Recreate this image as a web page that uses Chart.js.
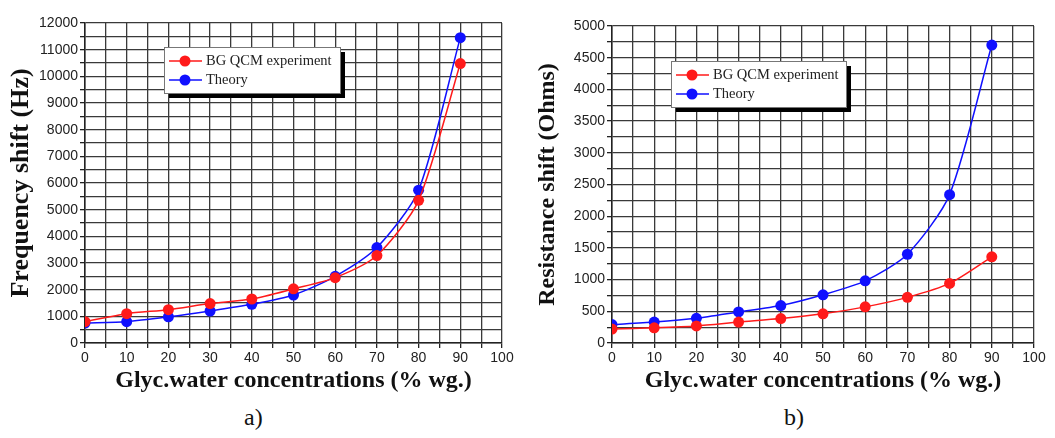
<!DOCTYPE html>
<html>
<head>
<meta charset="utf-8">
<script src="https://cdn.jsdelivr.net/npm/chart.js@4"></script>
<style>
  html, body { margin: 0; padding: 0; background: #fff; }
  #wrap { position: relative; width: 1055px; height: 438px; overflow: hidden; }
  .box { position: absolute; top: 0; height: 400px; }
  .cap { position: absolute; top: 404px; font: 24px "Liberation Serif", "DejaVu Serif", serif; color: #111; }
</style>
</head>
<body>
<div id="wrap">
  <div class="box" style="left:0;width:527px"><canvas id="freqChart" width="527" height="400"></canvas></div>
  <div class="box" style="left:527px;width:528px"><canvas id="resChart" width="528" height="400"></canvas></div>
  <div class="cap" style="left:244px">a)</div>
  <div class="cap" style="left:784px">b)</div>
</div>
<script>
// concentrations (% wg.)
const concentrations = [0, 10, 20, 30, 40, 50, 60, 70, 80, 90];

// a) frequency shift (Hz)
const freqExperiment = [800, 1100, 1250, 1480, 1650, 2030, 2450, 3280, 5350, 10480];
const freqTheory = [750, 800, 980, 1200, 1450, 1800, 2500, 3580, 5730, 11450];

// b) resistance shift (Ohms)
const resExperiment = [220, 240, 270, 330, 385, 460, 570, 720, 940, 1360];
const resTheory = [290, 330, 390, 490, 590, 760, 980, 1400, 2340, 4700];

const seriesNames = ['BG QCM experiment', 'Theory'];

const gridColor = '#3a3a3a';
const tickFont = { family: '"Liberation Sans", Arial, sans-serif', size: 14 };
const serif = '"Liberation Serif", "Times New Roman", serif';

// legend box with drop shadow, drawn inside the plot
const boxLegend = {
    id: 'boxLegend',
    afterDatasetsDraw(chart, args, opts) {
        const ctx = chart.ctx;
        const { x, y, w, h } = opts;
        ctx.save();
        ctx.fillStyle = '#000';
        ctx.fillRect(x + 5, y + 5, w, h);
        ctx.fillStyle = '#fff';
        ctx.fillRect(x, y, w, h);
        ctx.strokeStyle = '#777';
        ctx.lineWidth = 1;
        ctx.strokeRect(x + 0.5, y + 0.5, w, h);
        ctx.font = '14.5px ' + serif;
        ctx.textBaseline = 'middle';
        chart.data.datasets.forEach((ds, i) => {
            const ry = y + 14 + i * 19;
            ctx.strokeStyle = ds.borderColor;
            ctx.lineWidth = 1.5;
            ctx.beginPath();
            ctx.moveTo(x + 5, ry);
            ctx.lineTo(x + 38, ry);
            ctx.stroke();
            ctx.fillStyle = ds.backgroundColor;
            ctx.beginPath();
            ctx.arc(x + 21, ry, 5.5, 0, Math.PI * 2);
            ctx.fill();
            ctx.fillStyle = '#222';
            ctx.fillText(ds.label, x + 42, ry);
        });
        ctx.restore();
    }
};

function makeChart(id, expData, theoryData, yMax, yStep, yLabelStep, yTitle, yTitleSize, legendPos, padRight, padTop) {
    return new Chart(document.getElementById(id), {
        type: 'line',
        data: {
            labels: concentrations,
            datasets: [
                {
                    label: seriesNames[0],
                    data: concentrations.map((c, i) => ({ x: c, y: expData[i] })),
                    borderColor: '#ff1a1a',
                    backgroundColor: '#ff1a1a',
                    borderWidth: 1.5,
                    pointRadius: 5.5,
                    pointBorderWidth: 0,
                    tension: 0.25
                },
                {
                    label: seriesNames[1],
                    data: concentrations.map((c, i) => ({ x: c, y: theoryData[i] })),
                    borderColor: '#1010ff',
                    backgroundColor: '#1010ff',
                    borderWidth: 1.5,
                    pointRadius: 5.5,
                    pointBorderWidth: 0,
                    tension: 0.25
                }
            ]
        },
        options: {
            responsive: false,
            animation: false,
            layout: { padding: { left: 0, right: padRight, top: padTop, bottom: 0 } },
            plugins: {
                legend: { display: false },
                tooltip: { enabled: false },
                boxLegend: legendPos
            },
            scales: {
                x: {
                    type: 'linear',
                    min: 0,
                    max: 100,
                    border: { color: '#222', width: 1.5 },
                    grid: { color: gridColor, lineWidth: 1.3, tickLength: 5, tickColor: '#222' },
                    ticks: {
                        stepSize: 5,
                        maxRotation: 0,
                        autoSkip: false,
                        color: '#222',
                        font: tickFont,
                        padding: 2,
                        callback: v => (v % 10 === 0 ? v : '')
                    },
                    title: {
                        display: true,
                        text: 'Glyc.water concentrations (% wg.)',
                        color: '#111',
                        font: { family: serif, size: 24, weight: 'bold' },
                        padding: { top: 2, bottom: 5 }
                    },
                    afterFit: s => { s.height = 57; }
                },
                y: {
                    min: 0,
                    max: yMax,
                    border: { color: '#222', width: 1.5 },
                    grid: { color: gridColor, lineWidth: 1.3, tickLength: 5, tickColor: '#222' },
                    ticks: {
                        stepSize: yStep,
                        autoSkip: false,
                        color: '#222',
                        font: tickFont,
                        padding: 2,
                        callback: v => (v % yLabelStep === 0 ? v : '')
                    },
                    title: {
                        display: true,
                        text: yTitle,
                        color: '#111',
                        font: { family: serif, size: yTitleSize, weight: 'bold' },
                        padding: { top: 6, bottom: 0 }
                    },
                    afterFit: s => { s.width = 85; }
                }
            }
        },
        plugins: [boxLegend]
    });
}

makeChart('freqChart', freqExperiment, freqTheory, 12000, 500, 1000,
    'Frequency shift (Hz)', 26, { x: 164, y: 47, w: 176, h: 46 }, 25, 23);
makeChart('resChart', resExperiment, resTheory, 5000, 250, 500,
    'Resistance shift (Ohms)', 24, { x: 144, y: 61, w: 175, h: 46 }, 21, 26);
</script>
</body>
</html>
